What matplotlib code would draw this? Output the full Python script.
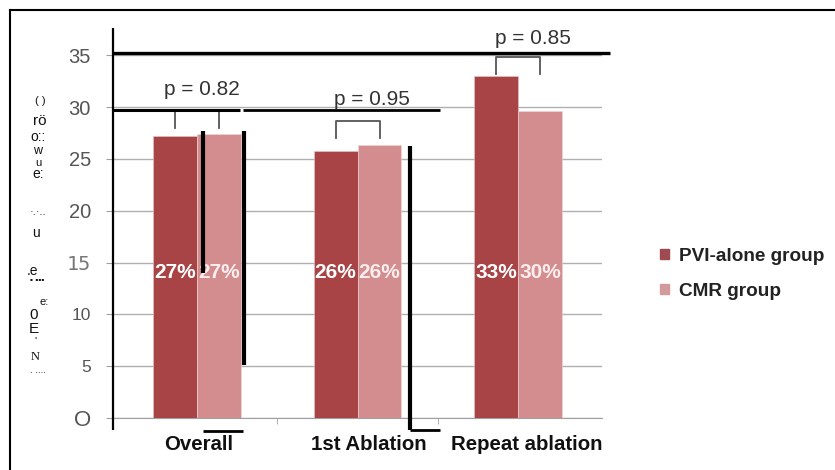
import matplotlib
matplotlib.use("Agg")
import matplotlib.pyplot as plt
import matplotlib.transforms as mtransforms
from matplotlib.patches import Patch
import numpy as np

plt.rcParams['font.family'] = ['Liberation Sans', 'DejaVu Sans']

# ---- data ----
categories = ["Overall", "1st Ablation", "Repeat ablation"]
series_names = ["PVI-alone group", "CMR group"]
pvi_alone = [27.2, 25.8, 33.0]
cmr = [27.4, 26.3, 29.6]
p_values = ["p = 0.82", "p = 0.95", "p = 0.85"]
bracket_top = [29.6, 28.7, 34.8]
bracket_foot = [28.0, 27.0, 33.2]
p_text_pos = [(0.03, 31.7), (1.09, 30.7), (2.09, 36.6)]
y_ticks = [0, 5, 10, 15, 20, 25, 30, 35]
y_tick_labels = ["O", "5", "10", "15", "20", "25", "30", "35"]

pvi_color = "#a84446"
cmr_color = "#d48d8e"

fig = plt.figure(figsize=(8.35, 4.70), dpi=100)
ax = fig.add_axes([0.1353, 0.1106, 0.721 - 0.1353, 0.785])

x = np.arange(len(categories))
w = 0.274
ax.bar(x - w / 2, pvi_alone, w, color=pvi_color, zorder=3, edgecolor="#e8c8c8", linewidth=0.4)
ax.bar(x + w / 2, cmr, w, color=cmr_color, zorder=3, edgecolor="#f0d8d8", linewidth=0.4)

# percentage labels inside the bars
for xi, v in zip(x - w / 2, pvi_alone):
    ax.text(xi, 14.0, f"{v:.0f}%", color="white", ha="center", va="center",
            fontsize=15, fontweight="bold", zorder=5)
for xi, v in zip(x + w / 2, cmr):
    ax.text(xi, 14.0, f"{v:.0f}%", color="#fbeeee", ha="center", va="center",
            fontsize=15, fontweight="bold", zorder=5)

# significance brackets
for i in range(len(categories)):
    xl, xr = x[i] - w / 2, x[i] + w / 2
    ax.plot([xl, xl, xr, xr], [bracket_foot[i], bracket_top[i], bracket_top[i], bracket_foot[i]],
            color="#555555", lw=1.3, zorder=4, clip_on=False)
    px, py = p_text_pos[i]
    ax.text(px, py, p_values[i], ha="center", va="center", fontsize=15,
            color="#333333", zorder=4, clip_on=False)

# axes styling
ax.set_xlim(-0.523, 2.523)
ax.set_ylim(0, 35.6)
ax.set_yticks(y_ticks)
ax.set_yticklabels(y_tick_labels)
ax.yaxis.grid(True, color="#b0b0b0", lw=1.0, zorder=0)
ax.set_axisbelow(True)
for s in ["top", "right"]:
    ax.spines[s].set_visible(False)
ax.spines["left"].set_visible(False)
ax.spines["bottom"].set_color("#a0a0a0")
ax.tick_params(axis="y", length=5, color="#a0a0a0", pad=11, labelcolor="#555555", labelsize=14.5)
for lab in ax.get_yticklabels():
    t = lab.get_text()
    if t == "15":
        lab.set_family(["DejaVu Sans Mono"])
        lab.set_fontweight("light")
        lab.set_color("#777777")
    elif t in ("10", "5"):
        lab.set_fontsize(12.5)
    elif t == "O":
        lab.set_fontsize(16)

ax.set_xticks(x)
ax.set_xticklabels(categories, fontsize=14.7, fontweight="bold", color="#111111")
ax.tick_params(axis="x", length=0, pad=12)
# category labels sit slightly right of their bar pairs
for lab, dx in zip(ax.get_xticklabels(), [2, 11, 9]):
    lab.set_transform(lab.get_transform() + mtransforms.ScaledTranslation(dx / 100, 0, fig.dpi_scale_trans))
ax.set_xticks([0.5, 1.5], minor=True)
ax.tick_params(axis="x", which="minor", length=4, color="#a0a0a0", direction="out")

# scanned-page ruling lines
rule = dict(color="black", solid_capstyle="butt", clip_on=False, zorder=6)
ax.plot([-0.523, -0.523], [-1.15, 37.6], lw=1.6, **rule)
ax.plot([-0.523, 2.573], [35.2, 35.2], lw=2.4, **rule)
ax.plot([-0.523, 0.268], [29.7, 29.7], lw=2.2, **rule)
ax.plot([0.287, 1.514], [29.7, 29.7], lw=2.0, **rule)
ax.plot([0.037, 0.037], [14.0, 27.7], lw=3.0, **rule)
ax.plot([0.293, 0.293], [5.1, 27.7], lw=3.0, **rule)
ax.plot([1.327, 1.327], [-1.15, 26.25], lw=3.0, **rule)
ax.plot([1.327, 1.514], [-1.15, -1.15], lw=2.0, **rule)
ax.plot([0.037, 0.287], [-1.25, -1.25], lw=2.0, **rule)

fig.add_artist(plt.Line2D([0.012, 1.0], [0.9787, 0.9787], color="black", lw=1.5))
fig.add_artist(plt.Line2D([0.012, 0.012], [0.0, 0.9787], color="black", lw=1.5))

# garbled vertical axis title as printed
ylabel_bits = [
    ("( )", 40, 101, 8), ("rö", 40, 121, 11), ("o::", 38, 137, 10), ("w", 38, 151, 9),
    ("u", 38, 163, 8), ("e:", 38, 174, 10), ("·.·..", 38, 212, 8), ("u", 36, 233, 10),
    (".e", 32, 271, 10), ("▪ ▪▪▪", 37, 280, 6), ("e:", 44, 302, 8), ("0", 34, 315, 11),
    ("E", 34, 329, 11), ("'", 35, 342, 8), ("N", 35, 357, 9), (". ....", 38, 370, 7),
]
for txt, px, py, fs in ylabel_bits:
    fam = ["Liberation Serif"] if txt == "N" else ["Liberation Sans", "DejaVu Sans"]
    fig.text(px / 835, 1 - py / 470, txt, ha="center", va="center", fontsize=fs,
             color="#111111", family=fam)

handles = [Patch(color="#9e4a50"), Patch(color="#d29a9d")]
fig.legend(handles, series_names, loc="center left", bbox_to_anchor=(0.77, 1 - 274 / 470),
           frameon=False, handlelength=0.45, handleheight=0.45, handletextpad=0.55,
           labelspacing=0.95, prop={"weight": "bold", "size": 13.7}, labelcolor="#222222")

fig.savefig("out.png", dpi=100, facecolor="white")
